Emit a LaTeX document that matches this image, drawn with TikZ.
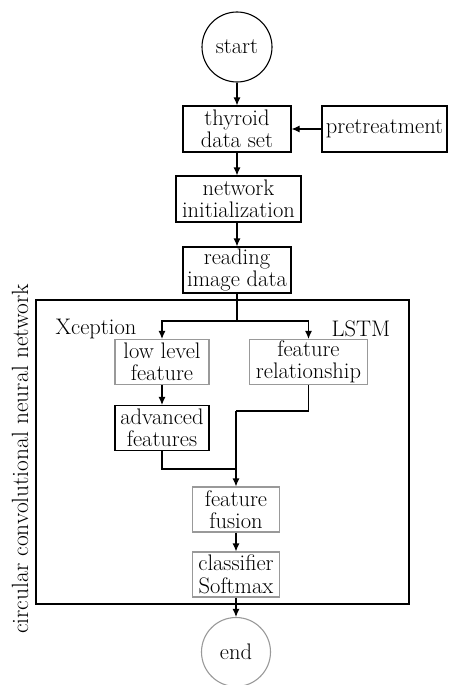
\documentclass[tikz,border=0pt]{standalone}
\usetikzlibrary{arrows.meta}
\begin{document}
\begin{tikzpicture}[x=1pt,y=-1pt,
  every node/.style={font=\fontsize{22.5}{22.5}\selectfont, align=center, inner sep=0pt},
  blk/.style={draw=black, line width=1.1pt, rectangle},
  gry/.style={draw=black!40, line width=1.1pt, rectangle},
  arr/.style={line width=1.1pt, -{Latex[length=8pt,width=7pt]}},
  ln/.style={line width=1.1pt}]
\useasboundingbox (0,0) rectangle (453,685);
\node[draw=black, line width=1.1pt, circle, minimum size=70pt] (start) at (237,47) {start};
\node[blk, minimum width=108pt, minimum height=46pt] (thy) at (237,129) {thyroid\\data set};
\node[blk, minimum width=125pt, minimum height=46pt] (pre) at (384.5,129) {pretreatment};
\node[blk, minimum width=125pt, minimum height=46pt] (net) at (238.5,199) {network\\initialization};
\node[blk, minimum width=108pt, minimum height=46pt] (read) at (237,270) {reading\\image data};
\node[draw=black, line width=1.1pt, minimum width=373pt, minimum height=304pt] (big) at (222.5,452) {};
\node[rotate=90, font=\fontsize{23.5}{24}\selectfont] (lbl) at (20,459) {circular convolutional neural network};
\node (xc) at (96,329) {Xception};
\node (lstm) at (361,329) {LSTM};
\node[gry, minimum width=94pt, minimum height=45pt] (low) at (162,362) {low level\\feature};
\node[gry, minimum width=118pt, minimum height=45pt] (rel) at (308.5,362) {feature\\relationship};
\node[blk, minimum width=94pt, minimum height=45pt] (adv) at (162,428) {advanced\\features};
\node[gry, minimum width=87pt, minimum height=45pt] (fus) at (236,509.5) {feature\\fusion};
\node[gry, minimum width=87pt, minimum height=45pt] (cls) at (236,574.5) {classifier\\Softmax};
\node[draw=black!40, line width=1.1pt, circle, minimum size=69pt] (end) at (236,652) {end};
\coordinate (split) at (237,321);
\coordinate (j1) at (162,469);
\coordinate (j2) at (308.5,411);
\draw[arr] (start) -- (thy);
\draw[arr] (pre) -- (thy);
\draw[arr] (thy) -- (thy |- net.north);
\draw[arr] (read |- net.south) -- (read);
\draw[ln] (read.south) -- (split);
\draw[arr] (split) -| (low.north);
\draw[arr] (split) -| (rel.north);
\draw[arr] (low) -- (adv);
\draw[ln] (adv.south) -- (j1) -- (j1 -| fus);
\draw[ln] (rel.south) -- (j2) -- (j2 -| fus);
\draw[arr] (j2 -| fus) -- (fus.north);
\draw[arr] (fus) -- (cls);
\draw[arr] (cls) -- (end);
\end{tikzpicture}
\end{document}
